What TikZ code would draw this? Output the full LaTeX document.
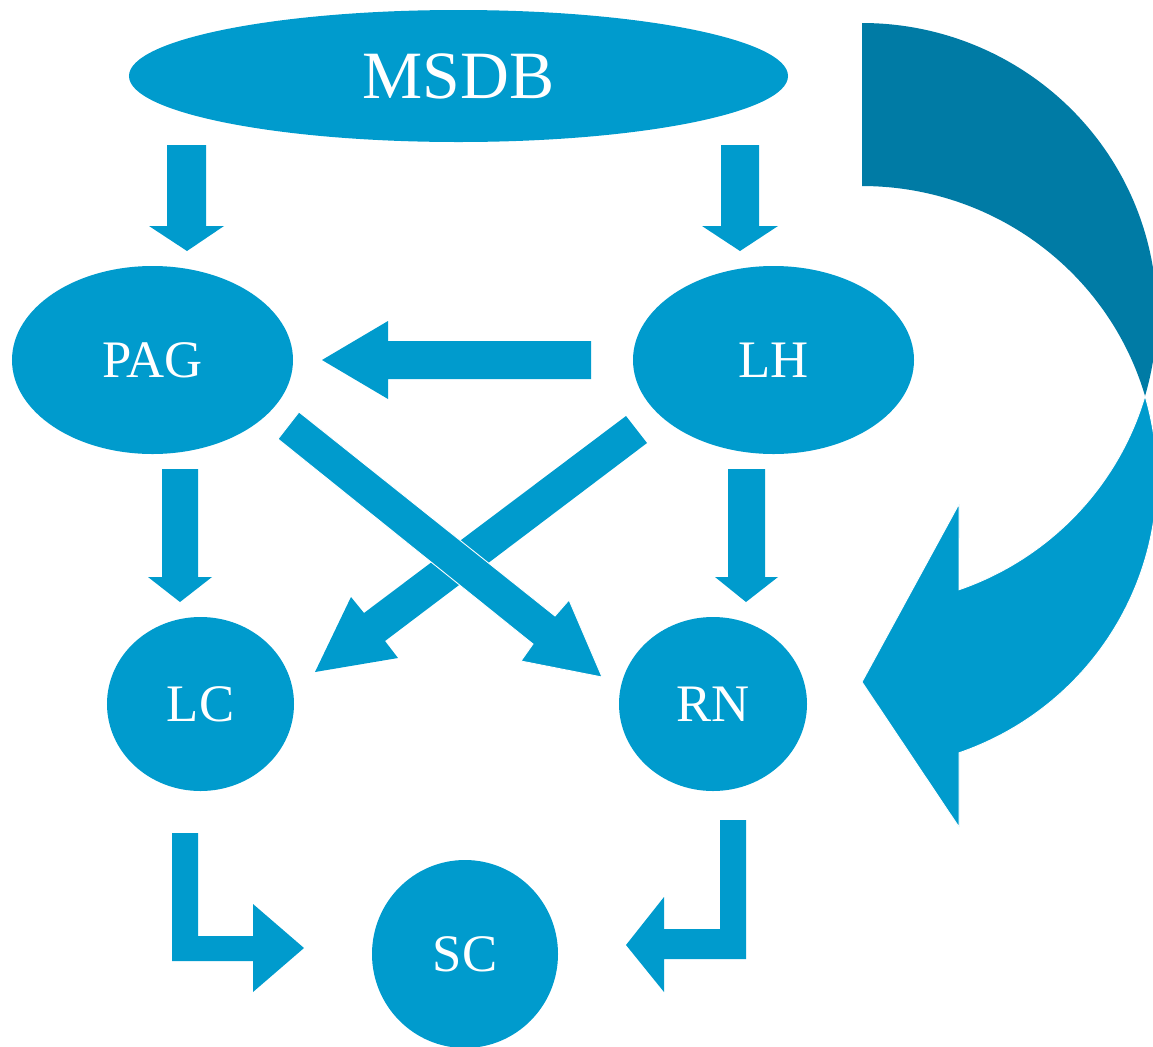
\documentclass[tikz,border=0pt]{standalone}
\usepackage{fontspec}
\setmainfont{Liberation Serif}
\usetikzlibrary{shapes.geometric}
\definecolor{flowblue}{RGB}{0,155,205}
\definecolor{flowdark}{RGB}{0,123,165}
\tikzset{
  blob/.style={ellipse, fill=flowblue, text=white, inner sep=0pt,
    font=\fontsize{30}{36}\selectfont},
  arrowfill/.style={fill=flowblue},
  crossfill/.style={fill=flowblue, draw=white, line width=0.5pt}
}

\begin{document}
\begin{tikzpicture}[x=0.2mm,y=-0.2mm]
  \clip (0,0) rectangle (1153,1046);

  % regions
  \node[blob, minimum width=131.8mm, minimum height=26.4mm,
    font=\fontsize{38.5}{44}\selectfont] (msdb) at (458.5,76) {MSDB};
  \node[blob, minimum width=56.2mm, minimum height=37.6mm] (pag) at (152.5,360) {PAG};
  \node[blob, minimum width=56.2mm, minimum height=37.6mm] (lh) at (773.5,360) {LH};
  \node[blob, minimum width=37.4mm, minimum height=34.8mm] (lc) at (200.5,704) {LC};
  \node[blob, minimum width=37.6mm, minimum height=34.8mm] (rn) at (713,704) {RN};
  \node[blob, minimum width=37.2mm, minimum height=37.6mm] (sc) at (465,954) {SC};

  % down arrows
  \fill[arrowfill] (167,145) -- (206,145) -- (206,226) -- (224,226) -- (187,251)
    -- (149,226) -- (167,226) -- cycle;
  \fill[arrowfill] (721,145) -- (759,145) -- (759,226) -- (778,226) -- (740,251)
    -- (702,226) -- (721,226) -- cycle;
  \fill[arrowfill] (162,469) -- (198,469) -- (198,577) -- (212,577) -- (180,602)
    -- (148,577) -- (162,577) -- cycle;
  \fill[arrowfill] (728,469) -- (765,469) -- (765,577) -- (778,577) -- (746,602)
    -- (715,577) -- (728,577) -- cycle;

  % LH to PAG
  \fill[arrowfill] (591,341) -- (591,379) -- (388,379) -- (388,399) -- (322,360)
    -- (388,321) -- (388,341) -- cycle;

  % crossing arrows
  \fill[arrowfill] (626,416) -- (647,443) -- (385,641) -- (398,658) -- (315,672)
    -- (351,597) -- (364,613) -- cycle;
  \filldraw[crossfill] (299,412) -- (555,616) -- (569,600) -- (602,677) -- (521,661)
    -- (533,644) -- (278,439) -- cycle;

  % bent arrows into SC
  \fill[arrowfill] (172,833) -- (198,833) -- (198,936) -- (253,936) -- (253,904)
    -- (304,948) -- (253,992) -- (253,961) -- (172,961) -- cycle;
  \fill[arrowfill] (720,820) -- (746,820) -- (746,959) -- (664,959) -- (664,992)
    -- (626,945) -- (664,897) -- (664,929) -- (720,929) -- cycle;

  % curved arrow, back and front
  \fill[flowdark] (862,23) arc[start angle=-90, end angle=16.24, x radius=294.8, y radius=291.5]
    arc[start angle=-16.24, end angle=-90, x radius=294.8, y radius=291.5] -- cycle;
  \filldraw[crossfill] (1145,396) arc[start angle=16.24, end angle=70.79, x radius=294.8, y radius=291.5]
    -- (959,504) -- (862,682) -- (959,827) -- (959,752.8)
    arc[start angle=70.79, end angle=-16.24, x radius=294.8, y radius=291.5] -- cycle;
\end{tikzpicture}
\end{document}
